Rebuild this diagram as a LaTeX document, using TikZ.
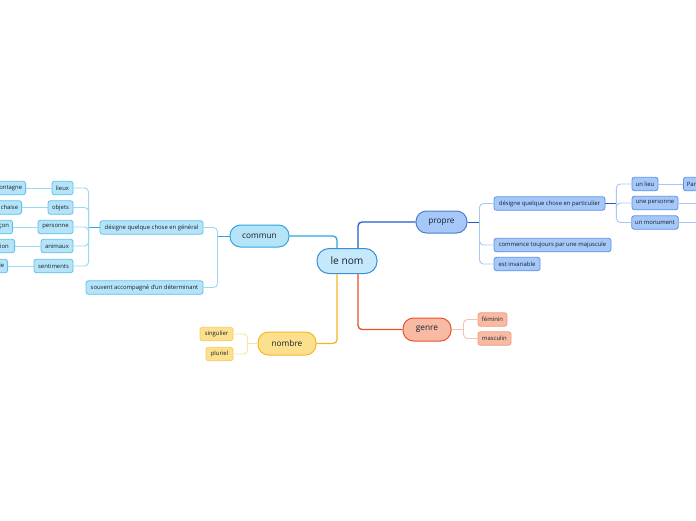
\documentclass[tikz,border=0pt]{standalone}
\usepackage{fontspec}
\setmainfont{Open Sans}
\definecolor{txt}{HTML}{16202E}
\definecolor{cmF}{HTML}{B5E4F8}\definecolor{cmD}{HTML}{2CA8E0}\definecolor{cmL}{HTML}{9AD8F3}\definecolor{cmB}{HTML}{5EC0EC}
\definecolor{prF}{HTML}{A6C8F9}\definecolor{prD}{HTML}{1E5EC6}\definecolor{prL}{HTML}{A9C7F5}\definecolor{prB}{HTML}{5F93E4}
\definecolor{nbF}{HTML}{FDE08D}\definecolor{nbD}{HTML}{F6B526}\definecolor{nbL}{HTML}{FDE3A3}\definecolor{nbB}{HTML}{F9CC66}
\definecolor{gnF}{HTML}{F8BAA3}\definecolor{gnD}{HTML}{E9522A}\definecolor{gnL}{HTML}{F7C2B0}\definecolor{gnB}{HTML}{F39B7E}
\definecolor{ctF}{HTML}{C5E9FB}\definecolor{ctB}{HTML}{3B8FD6}
\tikzset{
  mainbox/.style={draw, line width=1pt, rounded corners=10.5pt, minimum height=22pt, inner sep=0pt, font=\fontsize{8.3}{10}\selectfont, text=txt},
  leaf/.style={draw, line width=0.8pt, rounded corners=2.5pt, minimum height=13.5pt, inner xsep=3.5pt, inner ysep=0pt, font=\fontsize{5.9}{7}\selectfont, text=txt},
  cleaf/.style={leaf, fill=cmF, draw=cmB},
  pleaf/.style={leaf, fill=prF, draw=prB},
  nleaf/.style={leaf, fill=nbF, draw=nbB},
  gleaf/.style={leaf, fill=gnF, draw=gnB},
  mainline/.style={line width=1.3pt, rounded corners=4pt},
  subline/.style={line width=0.9pt, rounded corners=4pt},
}
\begin{document}
\begin{tikzpicture}[x=1pt,y=-1pt]
\useasboundingbox (0,0) rectangle (696,520);
\clip (0,0) rectangle (696,520);
\fill[white] (0,0) rectangle (696,520);
% central and main nodes
\node[mainbox, fill=ctF, draw=ctB, minimum width=60pt, minimum height=25pt, rounded corners=12pt, font=\fontsize{10.2}{12}\selectfont] (lenom) at (347,261) {le nom};
\node[mainbox, fill=cmF, draw=cmD, minimum width=59pt] (commun) at (259.5,236) {commun};
\node[mainbox, fill=prF, draw=prD!80, minimum width=51pt] (propre) at (441.5,222) {propre};
\node[mainbox, fill=nbF, draw=nbD, minimum width=58pt, minimum height=23pt] (nombre) at (287,343.5) {nombre};
\node[mainbox, fill=gnF, draw=gnD, minimum width=48pt, minimum height=23pt] (genre) at (427,329.5) {genre};
% commun side
\node[cleaf, minimum width=103pt] (gen) at (151.5,227.5) {désigne quelque chose en général};
\node[cleaf, minimum width=117pt] (det) at (144.5,287.5) {souvent accompagné d'un déterminant};
\node[cleaf, minimum width=21pt] (lieux) at (62.5,188) {lieux};
\node[cleaf, minimum width=25pt] (objets) at (60.5,207.5) {objets};
\node[cleaf, minimum width=35pt] (personne) at (55.5,227) {personne};
\node[cleaf, minimum width=32pt] (animaux) at (57,246) {animaux};
\node[cleaf, minimum width=39pt] (sentiments) at (53.5,266) {sentiments};
\node[cleaf, anchor=east] (montagne) at (26,188) {montagne};
\node[cleaf, anchor=east] (chaise) at (22,207.5) {chaise};
\node[cleaf, anchor=east] (garcon) at (13,227) {garçon};
\node[cleaf, anchor=east, minimum width=22pt] (lion) at (15,246) {lion};
\node[cleaf, anchor=east] (joie) at (8,266) {joie};
% propre side
\node[pleaf, minimum width=111pt] (part) at (549.5,203.5) {désigne quelque chose en particulier};
\node[pleaf, minimum width=117pt] (maj) at (552.5,245) {commence toujours par une majuscule};
\node[pleaf, minimum width=46pt] (inv) at (517,264) {est invariable};
\node[pleaf, minimum width=26pt] (unlieu) at (645,184) {un lieu};
\node[pleaf, minimum width=46pt] (unepers) at (655,203) {une personne};
\node[pleaf, minimum width=46pt] (unmon) at (655,222.5) {un monument};
\node[pleaf, anchor=west] (paris) at (683,184) {Paris};
\coordinate (persx) at (700,203);
\coordinate (monx) at (700,222.5);
% nombre side
\node[nleaf, minimum width=33pt] (sing) at (216.5,334) {singulier};
\node[nleaf, minimum width=27pt] (plur) at (219.5,354) {pluriel};
% genre side
\node[gleaf, minimum width=29pt] (fem) at (492.5,319.5) {féminin};
\node[gleaf, minimum width=33pt] (masc) at (494.5,338.5) {masculin};
% junctions
\coordinate (jc) at ([xshift=-12pt]commun.west);
\coordinate (jg) at ([xshift=-11pt]gen.west);
\coordinate (jp) at ([xshift=12pt]propre.east);
\coordinate (jpp) at ([xshift=11pt]part.east);
\coordinate (jn) at ([xshift=-10pt]nombre.west);
\coordinate (jgn) at ([xshift=12pt]genre.east);
% main connectors
\draw[mainline, cmD] ([xshift=-10pt]lenom.north) |- (commun.east);
\draw[mainline, prD] ([xshift=11pt]lenom.north) |- (propre.west);
\draw[mainline, nbD] ([xshift=-10pt]lenom.south) |- (nombre.east);
\draw[mainline, gnD] ([xshift=11pt]lenom.south) |- (genre.west);
% commun branches
\draw[subline, cmD] (commun.west) -- (jc);
\draw[subline, cmL] (jc) |- (gen.east);
\draw[subline, cmL] (jc) |- (det.east);
\draw[subline, cmD] (gen.west) -- (jg);
\foreach \c in {lieux,objets,personne,animaux,sentiments}
  \draw[subline, cmL] (jg) |- (\c.east);
\draw[subline, cmL] (lieux.west) -- (montagne.east);
\draw[subline, cmL] (objets.west) -- (chaise.east);
\draw[subline, cmL] (personne.west) -- (garcon.east);
\draw[subline, cmL] (animaux.west) -- (lion.east);
\draw[subline, cmL] (sentiments.west) -- (joie.east);
% propre branches
\draw[subline, prD] (propre.east) -- (jp);
\foreach \c in {part,maj,inv}
  \draw[subline, prL] (jp) |- (\c.west);
\draw[subline, prD] (part.east) -- (jpp);
\foreach \c in {unlieu,unepers,unmon}
  \draw[subline, prL] (jpp) |- (\c.west);
\draw[subline, prL] (unlieu.east) -- (paris.west);
\draw[subline, prL] (unepers.east) -- (persx);
\draw[subline, prL] (unmon.east) -- (monx);
% nombre branches
\draw[subline, nbL] (nombre.west) -- (jn);
\draw[subline, nbL] (jn) |- (sing.east);
\draw[subline, nbL] (jn) |- (plur.east);
% genre branches
\draw[subline, gnL] (genre.east) -- (jgn);
\draw[subline, gnL] (jgn) |- (fem.west);
\draw[subline, gnL] (jgn) |- (masc.west);
\end{tikzpicture}
\end{document}
